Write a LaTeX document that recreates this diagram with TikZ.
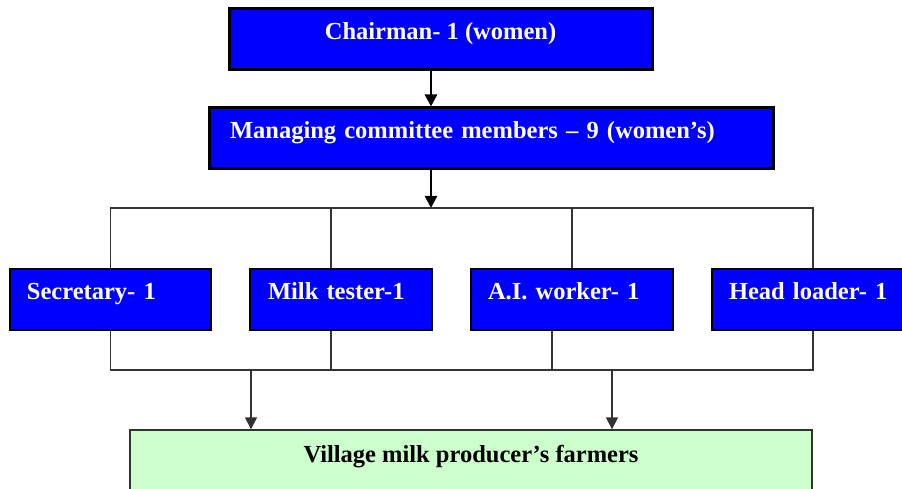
\documentclass[tikz,border=0pt]{standalone}
\usepackage{fontspec}
\setmainfont{Liberation Serif}
\usepackage{tikz}
\usetikzlibrary{arrows.meta}

\begin{document}
\begin{tikzpicture}[x=1pt,y=-1pt,>={Triangle[width=12pt,length=12pt]}]
\tikzstyle{post} = [draw, fill={rgb,255:red,0;green,0;blue,255}, text=white,
    font=\bfseries\fontsize{24.5}{28}\selectfont, inner ysep=0pt,
    minimum height=61pt, text height=11pt, text depth=11pt]
\tikzstyle{head post} = [post, line width=3pt]
\tikzstyle{staff} = [post, line width=1.2pt, align=left, inner xsep=17pt]
\tikzstyle{wire} = [line width=1.3pt, draw={rgb,255:red,51;green,51;blue,51}]
\useasboundingbox (0,0) rectangle (902,489);
% committee
\node[head post, minimum width=423pt] (chair) at (440.5,39.5) {Chairman- 1 (women)};
\node[head post, align=left, inner xsep=21pt, text width=522pt] (mcm) at (491,138.5)
    {Managing committee members – 9 (women’s)};
% staff row
\node[staff, text width=167pt] (sec) at (110.5,299.5) {Secretary- 1};
\node[staff, inner xsep=18pt, text width=146pt] (milk) at (341,299.5) {Milk tester-1};
\node[staff, text width=168pt] (ai) at (572,299.5) {A.I. worker- 1};
\node[staff, text width=168pt] (head) at (813,299.5) {Head loader- 1};
% farmers
\node[draw, wire, fill={rgb,255:red,204;green,255;blue,204}, minimum width=682pt,
    minimum height=65pt, font=\bfseries\fontsize{24.5}{28}\selectfont,
    text height=11pt, text depth=11pt] (farmers) at (471,462.5)
    {Village milk producer’s farmers};
\coordinate (busT) at (431,208);
\coordinate (busB) at (431,370);
\draw[line width=2.5pt, ->] (chair.south -| busT) -- (mcm.north -| busT);
\draw[line width=2.5pt, ->] (mcm.south -| busT) -- (busT);
\draw[wire] (sec.north) |- (busT) -| (head.north);
\draw[wire] ([xshift=-10pt]milk.north) -- ([xshift=-10pt]milk.north |- busT);
\draw[wire] (ai.north) -- (ai.north |- busT);
\draw[wire] (sec.south) |- (busB) -| (head.south);
\draw[wire] ([xshift=-10pt]milk.south) -- ([xshift=-10pt]milk.south |- busB);
\draw[wire] ([xshift=-20pt]ai.south) -- ([xshift=-20pt]ai.south |- busB);
\draw[wire, ->] ([xshift=-220pt]farmers.north |- busB) -- ([xshift=-220pt]farmers.north);
\draw[wire, ->] ([xshift=141pt]farmers.north |- busB) -- ([xshift=141pt]farmers.north);
\end{tikzpicture}
\end{document}
